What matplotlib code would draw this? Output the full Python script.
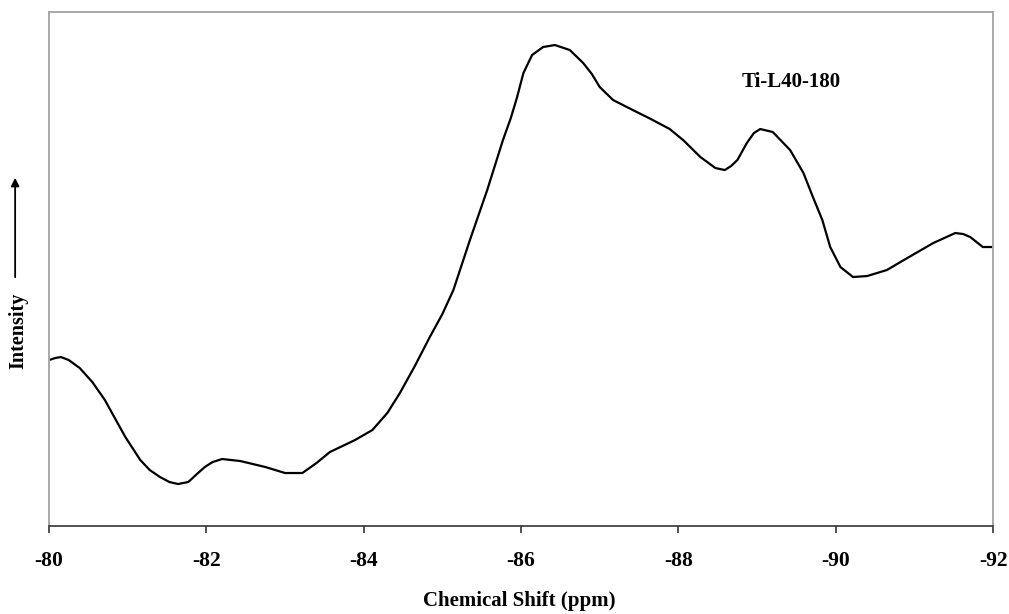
import matplotlib.pyplot as plt
from matplotlib.patches import FancyArrowPatch

# chemical shift (ppm) and intensity (arbitrary units)
shift = [-80.0, -80.08, -80.15, -80.25, -80.39, -80.55, -80.71, -80.85, -80.97,
         -81.16, -81.28, -81.41, -81.53, -81.64, -81.77, -81.88, -81.98, -82.08,
         -82.20, -82.43, -82.75, -83.00, -83.22, -83.40, -83.57, -83.89, -84.11,
         -84.30, -84.46, -84.65, -84.84, -85.00, -85.14, -85.35, -85.57, -85.77,
         -85.87, -85.95, -86.03, -86.14, -86.28, -86.43, -86.62, -86.79, -86.90,
         -87.00, -87.17, -87.42, -87.65, -87.89, -88.06, -88.28, -88.47, -88.59,
         -88.67, -88.75, -88.87, -88.96, -89.04, -89.20, -89.42, -89.59, -89.71,
         -89.83, -89.93, -90.06, -90.22, -90.40, -90.65, -90.91, -91.24, -91.52,
         -91.62, -91.71, -91.87, -92.0]
intensity = [166, 168, 169, 166, 158, 144, 126, 106, 89,
             66, 56, 49, 44, 42, 44, 52, 59, 64,
             67, 65, 59, 53, 53, 63, 74, 86, 96,
             113, 133, 160, 189, 212, 236, 286, 336, 386,
             408, 429, 453, 471, 479, 481, 476, 463, 452,
             439, 426, 416, 407, 397, 386, 369, 358, 356,
             360, 366, 383, 393, 397, 394, 376, 353, 329,
             306, 279, 259, 249, 250, 256, 268, 283, 293,
             292, 289, 279, 279]
xticks = [-80, -82, -84, -86, -88, -90, -92]
sample = "Ti-L40-180"

serif = ['Liberation Serif', 'DejaVu Serif']

fig = plt.figure(figsize=(10.09, 6.14), dpi=100)
ax = fig.add_axes([0.0486, 0.1433, 0.9356, 0.8371])

ax.plot(shift, intensity, color='black', lw=1.6, solid_joinstyle='round')

ax.set_xlim(-80, -92)
ax.set_ylim(0, 514)
ax.set_xticks(xticks)
ax.set_xticklabels([str(t) for t in xticks], family=serif, fontweight='bold', fontsize=15.5)
ax.set_yticks([])
ax.tick_params(axis='x', direction='out', length=5, width=1.2, pad=13, color='#333333')

for s in ['top', 'left', 'right']:
    ax.spines[s].set_color('#a8a8a8')
    ax.spines[s].set_linewidth(1.4)
ax.spines['bottom'].set_color('#333333')
ax.spines['bottom'].set_linewidth(1.2)

ax.text(-89.43, 444, sample, family=serif, fontweight='bold', fontsize=15,
        ha='center', va='center')

fig.text(0.515, 1 - 601 / 614, "Chemical Shift (ppm)", family=serif, fontweight='bold',
         fontsize=15, ha='center', va='center')
fig.text(0.018, 1 - 331 / 614, "Intensity", family=serif, fontweight='bold', fontsize=14.5,
         rotation=90, ha='center', va='center')
fig.add_artist(FancyArrowPatch(
    (0.015, 1 - 280 / 614), (0.015, 1 - 175 / 614), transform=fig.transFigure,
    arrowstyle='-|>', mutation_scale=12, color='black', lw=1.3))

fig.savefig('out.png', dpi=100)
